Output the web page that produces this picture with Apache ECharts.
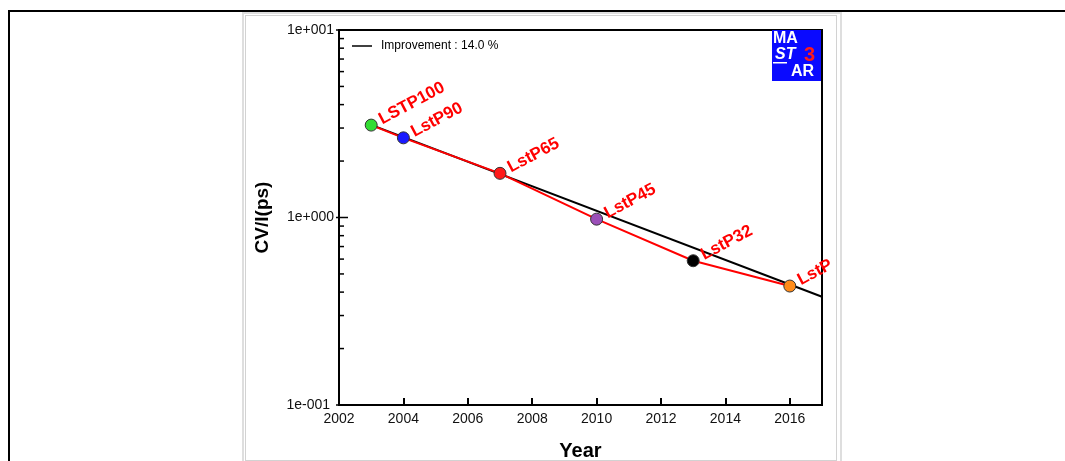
<!DOCTYPE html>
<html>
<head>
<meta charset="utf-8">
<script src="https://cdn.jsdelivr.net/npm/echarts@6/dist/echarts.min.js"></script>
<style>
  html, body { margin: 0; padding: 0; background: #fff; width: 1065px; height: 461px; overflow: hidden; }
  #outer { position: absolute; left: 8px; top: 10px; width: 1100px; height: 500px; border-top: 2px solid #000; border-left: 2px solid #000; }
  #panelA { position: absolute; left: 242px; top: 12px; width: 596px; height: 470px; border: 2px solid #dedede; }
  #panelB { position: absolute; left: 245px; top: 15px; width: 590px; height: 444px; border: 1px solid #d2d2d2; }
  #chart { position: absolute; left: 0; top: 0; width: 1065px; height: 461px; }
</style>
</head>
<body>
<div id="outer"></div>
<div id="panelA"></div>
<div id="panelB"></div>
<div id="chart"></div>
<script>
// ---- data ----
const nodeNames  = ['LSTP100', 'LstP90', 'LstP65', 'LstP45', 'LstP32', 'LstP'];
const nodeYears  = [2003, 2004, 2007, 2010, 2013, 2016];
const nodeValues = [3.11, 2.66, 1.72, 0.98, 0.588, 0.431];
const nodeColors = ['#33dd33', '#1a1aff', '#ff1a1a', '#9b4fb8', '#000000', '#ff8c1a'];
const trendName   = 'Improvement : 14.0 %';
const trendYears  = [2003, 2017];
const trendValues = [3.12, 0.378];
const xTickYears  = [2002, 2004, 2006, 2008, 2010, 2012, 2014, 2016];
const yTickValues = [0.1, 1, 10];
const yTickLabels = ['1e-001', '1e+000', '1e+001'];
const yMinorTicks = [0.2, 0.3, 0.4, 0.5, 0.6, 0.7, 0.8, 0.9, 2, 3, 4, 5, 6, 7, 8, 9];

const FONT = 'Liberation Sans, Arial, sans-serif';
const xMin = 2002, xMax = 2017;

const chart = echarts.init(document.getElementById('chart'), null, { renderer: 'canvas' });

const tickData = yMinorTicks.map(v => [xMin, v, 0]).concat(yTickValues.map(v => [xMin, v, 1]));

chart.setOption({
  animation: false,
  backgroundColor: 'transparent',
  grid: { left: 339, right: 243, top: 30, bottom: 56, outerBoundsMode: 'none', containLabel: false,
          show: true, borderColor: '#000', borderWidth: 2, backgroundColor: 'transparent' },
  legend: {
    left: 347, top: 35, itemWidth: 20, itemHeight: 1.5, itemGap: 10,
    data: [{ name: trendName, icon: 'rect', itemStyle: { color: '#000' } }],
    textStyle: { fontFamily: FONT, fontSize: 12, color: '#000', padding: [0, 0, 0, 4] },
    selectedMode: false
  },
  xAxis: {
    type: 'value', min: xMin, max: xMax, interval: 2,
    axisLine: { lineStyle: { color: '#000', width: 2 } },
    axisTick: { inside: true, length: 7, lineStyle: { color: '#000', width: 2 } },
    splitLine: { show: false },
    axisLabel: {
      fontFamily: FONT, fontSize: 14, color: '#111', margin: 7, showMaxLabel: false,
      formatter: v => (xTickYears.indexOf(v) >= 0 ? String(v) : '')
    },
    name: 'Year', nameLocation: 'middle', nameGap: 36,
    nameTextStyle: { fontFamily: FONT, fontSize: 20, fontWeight: 'bold', color: '#000' }
  },
  yAxis: {
    type: 'log', logBase: 10, min: 0.1, max: 10,
    axisLine: { lineStyle: { color: '#000', width: 2 } },
    axisTick: { show: false },
    splitLine: { show: false },
    minorTick: { show: false },
    axisLabel: {
      fontFamily: FONT, fontSize: 14, color: '#111', margin: 5,
      formatter: v => {
        const i = yTickValues.findIndex(t => Math.abs(Math.log10(t) - Math.log10(v)) < 1e-6);
        if (i < 0) return '';
        return i === 0 ? '{b|' + yTickLabels[i] + '}' : yTickLabels[i];
      },
      rich: { b: { fontFamily: FONT, fontSize: 14, color: '#111', padding: [0, 4, 0, 0] } }
    },
    name: 'CV/I(ps)', nameLocation: 'middle', nameGap: 67,
    nameTextStyle: { fontFamily: FONT, fontSize: 19, fontWeight: 'bold', color: '#000' }
  },
  graphic: [
    { type: 'rect', shape: { x: 772, y: 30, width: 49, height: 51 }, style: { fill: '#0a0aff' }, z: 10 },
    { type: 'text', x: 773, y: 31, style: { text: 'MA', fill: '#fff', font: 'bold 16px "Liberation Sans", sans-serif' }, z: 11 },
    { type: 'text', x: 775, y: 47, style: { text: 'ST', fill: '#fff', font: 'italic bold 16px "Liberation Sans", sans-serif' }, z: 11 },
    { type: 'rect', shape: { x: 773, y: 62, width: 14, height: 1.5 }, style: { fill: '#fff' }, z: 11 },
    { type: 'text', x: 804, y: 45, style: { text: '3', fill: '#ff1a1a', font: 'bold 20px "Liberation Sans", sans-serif' }, z: 11 },
    { type: 'text', x: 791, y: 64, style: { text: 'AR', fill: '#fff', font: 'bold 16px "Liberation Sans", sans-serif' }, z: 11 }
  ],
  series: [
    {
      name: trendName, type: 'line', symbol: 'none', z: 2,
      data: trendYears.map((y, i) => [y, trendValues[i]]),
      lineStyle: { color: '#000', width: 2 }, itemStyle: { color: '#000' }
    },
    {
      name: 'nodes', type: 'line', z: 3,
      symbol: 'circle', symbolSize: 12,
      data: nodeYears.map((y, i) => ({
        value: [y, nodeValues[i]], name: nodeNames[i],
        itemStyle: { color: nodeColors[i], borderColor: '#333', borderWidth: 1 }
      })),
      lineStyle: { color: '#ff0000', width: 2 },
      label: {
        show: true, position: 'right', distance: 5, rotate: 28, offset: [0, 3],
        formatter: p => p.name, verticalAlign: 'bottom',
        fontFamily: FONT, fontSize: 17, fontWeight: 'bold', color: '#ff0000'
      }
    },
    {
      name: 'ticks', type: 'custom', clip: false, silent: true, z: 4,
      data: tickData,
      renderItem: (params, api) => {
        const p = api.coord([api.value(0), api.value(1)]);
        const major = api.value(2) === 1;
        return {
          type: 'line',
          shape: { x1: p[0] + (major ? -3 : 0), y1: p[1], x2: p[0] + (major ? 9 : 5), y2: p[1] },
          style: { stroke: '#000', lineWidth: 1.5 }
        };
      }
    }
  ]
});
</script>
</body>
</html>
